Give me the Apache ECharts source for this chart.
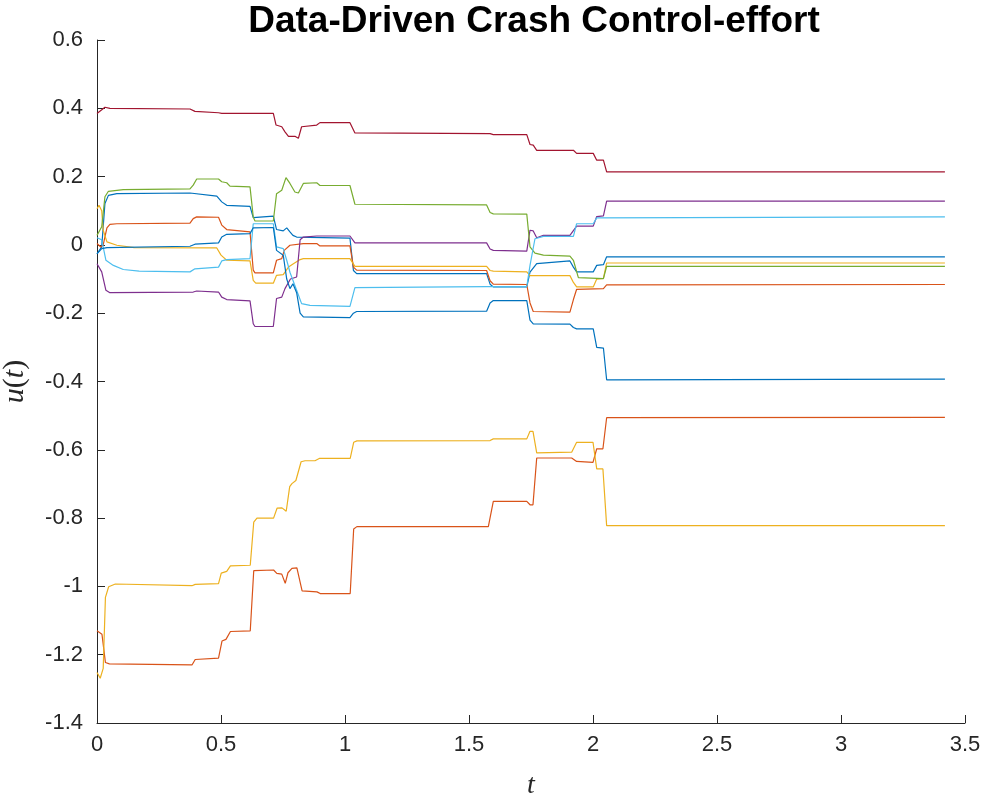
<!DOCTYPE html>
<html>
<head>
<meta charset="utf-8">
<script src="https://cdn.jsdelivr.net/npm/echarts@6/dist/echarts.min.js"></script>
<style>
html,body{margin:0;padding:0;background:#fff;}
#chart{width:983px;height:797px;}
</style>
</head>
<body>
<div id="chart"></div>
<script>
// ---- data: [t, u] breakpoints ----
var titleText = 'Data-Driven Crash Control-effort';
var xTicks = [0, 0.5, 1, 1.5, 2, 2.5, 3, 3.5];
var yTicks = [-1.4, -1.2, -1, -0.8, -0.6, -0.4, -0.2, 0, 0.2, 0.4, 0.6];

var blueA = [[0,-0.026],[0.019,-0.006],[0.032,0.121],[0.046,0.145],[0.08,0.15],[0.375,0.152],[0.483,0.143],[0.503,0.126],[0.523,0.116],[0.617,0.113],[0.63,0.08],[0.637,0.084],[0.711,0.084],[0.724,0.045],[0.751,0.041],[0.765,0.05],[0.778,0.038],[0.79,0.028],[0.805,0.023],[1.02,0.02],[1.034,-0.075],[1.047,-0.084],[1.571,-0.084],[1.585,-0.115],[1.598,-0.123],[1.733,-0.123],[1.746,-0.08],[1.773,-0.055],[1.907,-0.047],[1.921,-0.065],[1.934,-0.079],[2.001,-0.079],[2.015,-0.06],[2.042,-0.058],[2.055,-0.035],[3.419,-0.035]];
var orangeTop = [[0,0.004],[0.015,-0.006],[0.025,0.0],[0.04,0.05],[0.052,0.06],[0.08,0.062],[0.375,0.064],[0.388,0.077],[0.402,0.082],[0.49,0.081],[0.503,0.058],[0.523,0.045],[0.617,0.038],[0.63,-0.074],[0.637,-0.082],[0.711,-0.082],[0.724,-0.045],[0.745,-0.04],[0.755,-0.016],[0.778,-0.001],[0.832,0.004],[0.886,0.004],[0.899,-0.003],[1.02,-0.003],[1.034,-0.065],[1.047,-0.074],[1.571,-0.075],[1.585,-0.105],[1.598,-0.115],[1.733,-0.116],[1.746,-0.17],[1.759,-0.195],[1.907,-0.197],[1.921,-0.16],[1.934,-0.13],[2.042,-0.128],[2.055,-0.117],[3.419,-0.116]];
var yellowTop = [[0,0.106],[0.008,0.116],[0.019,0.1],[0.025,0.043],[0.04,0.009],[0.08,-0.001],[0.15,-0.008],[0.483,-0.009],[0.5,-0.03],[0.523,-0.045],[0.617,-0.047],[0.63,-0.104],[0.64,-0.112],[0.711,-0.112],[0.724,-0.089],[0.751,-0.087],[0.772,-0.065],[0.792,-0.055],[0.819,-0.043],[0.832,-0.04],[1.02,-0.04],[1.04,-0.063],[1.571,-0.063],[1.585,-0.075],[1.598,-0.077],[1.733,-0.079],[1.746,-0.09],[1.907,-0.09],[1.921,-0.11],[1.934,-0.123],[2.001,-0.123],[2.015,-0.1],[2.042,-0.098],[2.055,-0.053],[3.419,-0.053]];
var purple = [[0,-0.055],[0.019,-0.079],[0.036,-0.133],[0.052,-0.14],[0.388,-0.138],[0.402,-0.135],[0.49,-0.138],[0.503,-0.153],[0.523,-0.16],[0.617,-0.164],[0.63,-0.231],[0.637,-0.239],[0.711,-0.239],[0.724,-0.157],[0.745,-0.153],[0.758,-0.128],[0.78,-0.1],[0.805,-0.094],[0.819,0.015],[0.832,0.023],[0.886,0.026],[1.02,0.026],[1.04,0.006],[1.571,0.006],[1.585,-0.012],[1.598,-0.016],[1.733,-0.018],[1.746,0.043],[1.759,0.041],[1.773,0.021],[1.8,0.028],[1.907,0.028],[1.934,0.055],[2.001,0.055],[2.015,0.083],[2.042,0.085],[2.055,0.128],[3.419,0.128]];
var green = [[0,0.028],[0.019,0.053],[0.032,0.141],[0.046,0.157],[0.106,0.162],[0.375,0.164],[0.388,0.175],[0.402,0.193],[0.49,0.193],[0.503,0.185],[0.523,0.182],[0.536,0.172],[0.617,0.17],[0.63,0.082],[0.637,0.07],[0.711,0.07],[0.724,0.15],[0.745,0.16],[0.762,0.197],[0.778,0.18],[0.798,0.155],[0.812,0.152],[0.832,0.18],[0.886,0.182],[0.899,0.174],[1.02,0.174],[1.04,0.119],[1.571,0.117],[1.585,0.095],[1.598,0.091],[1.733,0.09],[1.746,-0.006],[1.766,-0.024],[1.8,-0.03],[1.907,-0.033],[1.921,-0.045],[1.941,-0.096],[2.042,-0.099],[2.055,-0.063],[3.419,-0.063]];
var lightBlue = [[0,0.021],[0.019,0.015],[0.036,-0.045],[0.066,-0.06],[0.106,-0.072],[0.17,-0.077],[0.375,-0.079],[0.395,-0.07],[0.49,-0.065],[0.503,-0.047],[0.523,-0.043],[0.617,-0.04],[0.63,0.062],[0.637,0.067],[0.711,0.062],[0.724,-0.006],[0.751,-0.011],[0.765,-0.045],[0.778,-0.08],[0.805,-0.133],[0.825,-0.172],[0.859,-0.177],[1.02,-0.18],[1.04,-0.125],[1.571,-0.122],[1.733,-0.122],[1.746,-0.06],[1.766,0.018],[1.8,0.025],[1.921,0.025],[1.934,0.062],[2.001,0.062],[2.015,0.079],[3.419,0.082]];
var darkRed = [[0,0.385],[0.032,0.403],[0.052,0.4],[0.375,0.398],[0.395,0.391],[0.49,0.387],[0.503,0.385],[0.711,0.385],[0.722,0.351],[0.745,0.346],[0.758,0.331],[0.772,0.318],[0.798,0.318],[0.812,0.312],[0.825,0.346],[0.886,0.351],[0.899,0.358],[1.02,0.358],[1.04,0.328],[1.585,0.326],[1.598,0.323],[1.733,0.323],[1.746,0.294],[1.759,0.292],[1.773,0.277],[1.921,0.277],[1.934,0.268],[2.001,0.268],[2.015,0.248],[2.042,0.248],[2.055,0.214],[3.419,0.214]];
var blueB = [[0,-0.026],[0.019,-0.011],[0.04,-0.008],[0.375,-0.004],[0.395,0.002],[0.49,0.006],[0.503,0.023],[0.523,0.031],[0.617,0.033],[0.63,0.05],[0.711,0.051],[0.724,-0.016],[0.751,-0.03],[0.765,-0.1],[0.778,-0.128],[0.79,-0.114],[0.805,-0.14],[0.819,-0.2],[0.832,-0.211],[1.02,-0.213],[1.034,-0.2],[1.047,-0.195],[1.571,-0.194],[1.585,-0.17],[1.598,-0.163],[1.733,-0.163],[1.746,-0.22],[1.759,-0.231],[1.907,-0.232],[1.921,-0.242],[1.934,-0.246],[2.001,-0.246],[2.015,-0.3],[2.042,-0.302],[2.055,-0.395],[3.419,-0.393]];
var orangeBottom = [[0,-1.13],[0.02,-1.14],[0.034,-1.223],[0.05,-1.227],[0.383,-1.23],[0.396,-1.214],[0.49,-1.21],[0.504,-1.16],[0.52,-1.155],[0.538,-1.132],[0.618,-1.13],[0.632,-0.954],[0.712,-0.952],[0.725,-0.962],[0.745,-0.964],[0.759,-0.991],[0.77,-0.96],[0.786,-0.947],[0.806,-0.946],[0.827,-1.013],[0.887,-1.016],[0.9,-1.021],[1.021,-1.021],[1.035,-0.832],[1.048,-0.825],[1.578,-0.825],[1.598,-0.751],[1.733,-0.751],[1.746,-0.761],[1.758,-0.761],[1.773,-0.624],[1.914,-0.624],[1.934,-0.634],[2.0,-0.637],[2.015,-0.597],[2.04,-0.597],[2.055,-0.506],[3.419,-0.505]];
var yellowBottom = [[0,-1.252],[0.013,-1.269],[0.025,-1.24],[0.034,-1.032],[0.047,-1.001],[0.074,-0.993],[0.383,-0.998],[0.396,-0.994],[0.49,-0.992],[0.501,-0.961],[0.523,-0.956],[0.538,-0.94],[0.618,-0.938],[0.632,-0.812],[0.645,-0.8],[0.712,-0.8],[0.726,-0.771],[0.746,-0.77],[0.763,-0.78],[0.777,-0.708],[0.786,-0.699],[0.802,-0.69],[0.823,-0.635],[0.839,-0.632],[0.879,-0.632],[0.898,-0.625],[1.021,-0.625],[1.035,-0.578],[1.048,-0.574],[1.585,-0.573],[1.598,-0.568],[1.733,-0.568],[1.746,-0.546],[1.758,-0.546],[1.773,-0.609],[1.914,-0.607],[1.934,-0.578],[2.0,-0.578],[2.015,-0.656],[2.04,-0.656],[2.055,-0.822],[3.419,-0.822]];

var seriesData = [blueA, orangeTop, yellowTop, purple, green, lightBlue, darkRed, blueB, orangeBottom, yellowBottom];
var seriesColors = ['#0072BD', '#D95319', '#EDB120', '#7E2F8E', '#77AC30', '#4DBEEE', '#A2142F', '#0072BD', '#D95319', '#EDB120'];

var axisColor = '#262626';
var chart = echarts.init(document.getElementById('chart'), null, {renderer: 'canvas'});
var option = {
  animation: false,
  backgroundColor: '#ffffff',
  title: {
    text: titleText,
    left: 529,
    top: -2,
    textAlign: 'center',
    textStyle: {fontFamily: 'Liberation Sans', fontWeight: 'bold', fontSize: 37, color: '#000000'}
  },
  grid: {left: 97, right: 18, top: 40, bottom: 74, containLabel: false, outerBoundsMode: 'none'},
  xAxis: {
    type: 'value', min: 0, max: 3.5, interval: 0.5,
    name: 't', nameLocation: 'middle', nameGap: 49,
    nameTextStyle: {fontFamily: 'Liberation Serif', fontStyle: 'italic', fontSize: 28, color: axisColor},
    axisLine: {show: true, onZero: false, lineStyle: {color: axisColor, width: 1}},
    axisTick: {show: true, inside: true, length: 8, lineStyle: {color: axisColor}},
    axisLabel: {fontFamily: 'Liberation Sans', fontSize: 22, color: axisColor, margin: 11,
      formatter: function (v) { return String(+v.toFixed(1)); }},
    splitLine: {show: false}
  },
  yAxis: {
    type: 'value', min: -1.4, max: 0.6, interval: 0.2,
    name: '{i|u}{r|(}{i|t}{r|)}', nameLocation: 'middle', nameGap: 67, nameRotate: 90,
    nameTextStyle: {
      rich: {
        i: {fontFamily: 'Liberation Serif', fontStyle: 'italic', fontSize: 30, color: axisColor},
        r: {fontFamily: 'Liberation Serif', fontSize: 30, color: axisColor}
      }
    },
    axisLine: {show: true, onZero: false, lineStyle: {color: axisColor, width: 1}},
    axisTick: {show: true, inside: true, length: 8, lineStyle: {color: axisColor}},
    axisLabel: {fontFamily: 'Liberation Sans', fontSize: 22, color: axisColor, margin: 14,
      formatter: function (v) { return String(+v.toFixed(1)); }},
    splitLine: {show: false}
  },
  series: seriesData.map(function (d, i) {
    return {
      type: 'line', data: d, showSymbol: false, symbol: 'none', smooth: false,
      lineStyle: {color: seriesColors[i], width: 1.2},
      itemStyle: {color: seriesColors[i]},
      silent: true, z: 2 + i
    };
  })
};
chart.setOption(option);
</script>
</body>
</html>
